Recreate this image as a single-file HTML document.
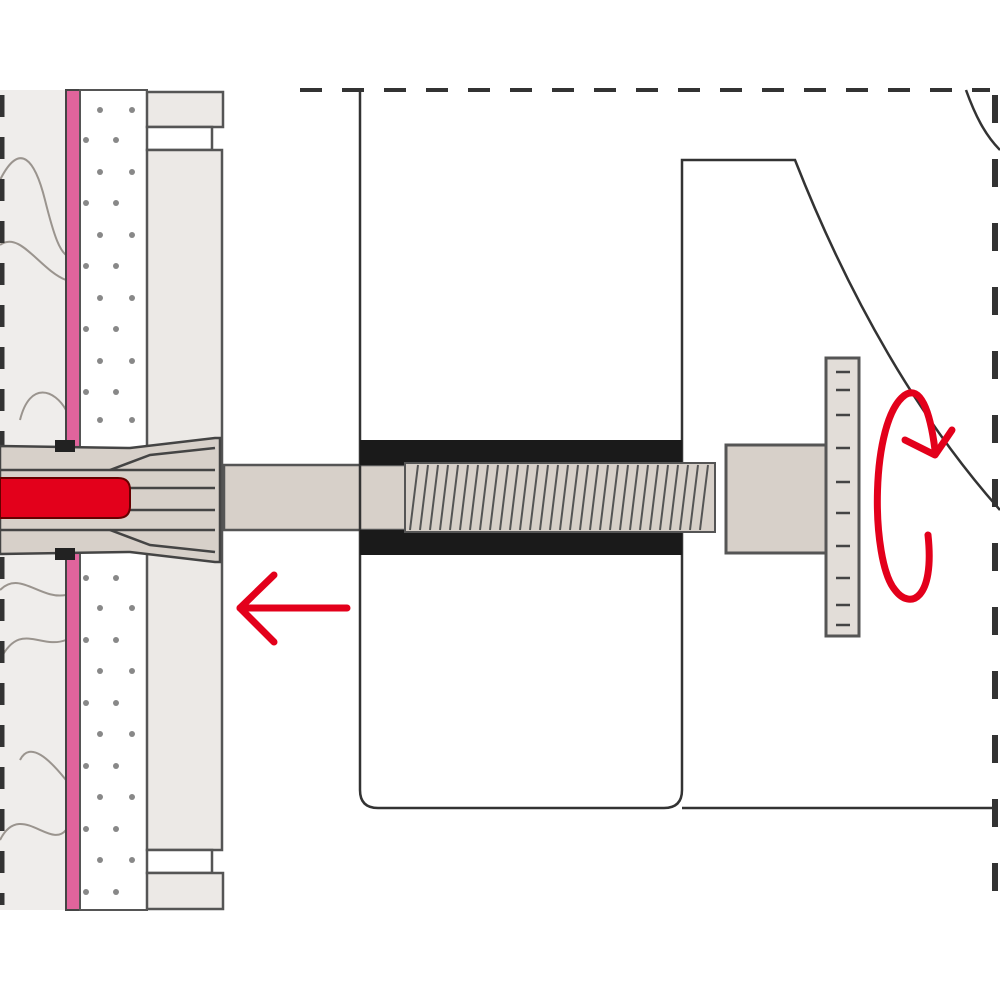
<!DOCTYPE html>
<html><head><style>html,body{margin:0;padding:0;background:#fff}</style></head>
<body>
<svg width="1000" height="1000" viewBox="0 0 1000 1000" xmlns="http://www.w3.org/2000/svg">
<rect width="1000" height="1000" fill="#fff"/>
<!-- wall base -->
<rect x="0" y="90" width="66" height="820" fill="#efedeb"/>
<g fill="none" stroke="#9a948e" stroke-width="2">
<path d="M0 180 C20 140 35 160 45 200 C55 240 60 250 66 255"/>
<path d="M0 245 C20 230 40 270 66 280"/>
<path d="M20 420 C30 380 55 390 66 410"/>
<path d="M0 590 C20 570 40 600 66 595"/>
<path d="M0 660 C20 620 40 650 66 640"/>
<path d="M20 760 C30 740 50 760 66 780"/>
<path d="M0 840 C20 800 50 850 66 830"/>
</g>
<rect x="66" y="90" width="14" height="820" fill="#e0649c" stroke="#444" stroke-width="2"/>
<rect x="80" y="90" width="67" height="820" fill="#fff" stroke="#555" stroke-width="2"/>
<g fill="#888">
<circle cx="100" cy="110" r="3"/><circle cx="132" cy="110" r="3"/>
<circle cx="86" cy="140" r="3"/><circle cx="116" cy="140" r="3"/>
<circle cx="100" cy="172" r="3"/><circle cx="132" cy="172" r="3"/>
<circle cx="86" cy="203" r="3"/><circle cx="116" cy="203" r="3"/>
<circle cx="100" cy="235" r="3"/><circle cx="132" cy="235" r="3"/>
<circle cx="86" cy="266" r="3"/><circle cx="116" cy="266" r="3"/>
<circle cx="100" cy="298" r="3"/><circle cx="132" cy="298" r="3"/>
<circle cx="86" cy="329" r="3"/><circle cx="116" cy="329" r="3"/>
<circle cx="100" cy="361" r="3"/><circle cx="132" cy="361" r="3"/>
<circle cx="86" cy="392" r="3"/><circle cx="116" cy="392" r="3"/>
<circle cx="100" cy="420" r="3"/><circle cx="132" cy="420" r="3"/>
<circle cx="86" cy="578" r="3"/><circle cx="116" cy="578" r="3"/>
<circle cx="100" cy="608" r="3"/><circle cx="132" cy="608" r="3"/>
<circle cx="86" cy="640" r="3"/><circle cx="116" cy="640" r="3"/>
<circle cx="100" cy="671" r="3"/><circle cx="132" cy="671" r="3"/>
<circle cx="86" cy="703" r="3"/><circle cx="116" cy="703" r="3"/>
<circle cx="100" cy="734" r="3"/><circle cx="132" cy="734" r="3"/>
<circle cx="86" cy="766" r="3"/><circle cx="116" cy="766" r="3"/>
<circle cx="100" cy="797" r="3"/><circle cx="132" cy="797" r="3"/>
<circle cx="86" cy="829" r="3"/><circle cx="116" cy="829" r="3"/>
<circle cx="100" cy="860" r="3"/><circle cx="132" cy="860" r="3"/>
<circle cx="86" cy="892" r="3"/><circle cx="116" cy="892" r="3"/>
</g>
<!-- panel -->
<g fill="#ece9e6" stroke="#555" stroke-width="2.5">
<rect x="147" y="92" width="76" height="35"/>
<rect x="147" y="127" width="65" height="23" fill="#fff"/>
<rect x="147" y="150" width="75" height="700"/>
<rect x="147" y="850" width="65" height="23" fill="#fff"/>
<rect x="147" y="873" width="76" height="36"/>
</g>
<!-- left dashed -->
<line x1="2" y1="95" x2="2" y2="905" stroke="#333" stroke-width="5" stroke-dasharray="22 20"/>
<!-- anchor -->
<g stroke="#444" stroke-width="2.5" fill="#d7d0c9">
<path d="M0 446 L130 448 L215 438 L220 438 L220 562 L215 562 L130 552 L0 554 Z"/>
<line x1="0" y1="470" x2="215" y2="470"/>
<line x1="0" y1="530" x2="215" y2="530"/>
<path d="M110 470 L150 455 L215 448" fill="none"/>
<path d="M110 530 L150 545 L215 552" fill="none"/>
<line x1="130" y1="488" x2="215" y2="488"/>
<line x1="130" y1="510" x2="215" y2="510"/>
</g>
<rect x="55" y="440" width="20" height="12" fill="#222"/>
<rect x="55" y="548" width="20" height="12" fill="#222"/>
<path d="M0 478 L118 478 Q130 478 130 490 L130 506 Q130 518 118 518 L0 518 Z" fill="#e3001b" stroke="#600" stroke-width="2"/>
<!-- shaft -->
<rect x="224" y="465" width="185" height="65" fill="#d7d0c9" stroke="#555" stroke-width="2.5"/>
<!-- middle block -->
<g fill="none" stroke="#333" stroke-width="2.5">
<path d="M360 90 L360 790 Q360 808 378 808 L664 808 Q682 808 682 790 L682 160 L795 160 C850 300 920 420 1000 510"/>
<line x1="682" y1="808" x2="995" y2="808"/>
<path d="M966 90 C975 115 985 135 1000 150"/>
</g>
<rect x="360" y="440" width="322" height="25" fill="#1a1a1a"/>
<rect x="360" y="530" width="322" height="25" fill="#1a1a1a"/>
<!-- thread -->
<rect x="405" y="463" width="310" height="69" fill="#d7d0c9" stroke="#555" stroke-width="2"/>
<g stroke="#555" stroke-width="2">
<path d="M410 530 L418 465 M420 530 L428 465 M430 530 L438 465 M440 530 L448 465 M450 530 L458 465 M460 530 L468 465 M470 530 L478 465 M480 530 L488 465 M490 530 L498 465 M500 530 L508 465 M510 530 L518 465 M520 530 L528 465 M530 530 L538 465 M540 530 L548 465 M550 530 L558 465 M560 530 L568 465 M570 530 L578 465 M580 530 L588 465 M590 530 L598 465 M600 530 L608 465 M610 530 L618 465 M620 530 L628 465 M630 530 L638 465 M640 530 L648 465 M650 530 L658 465 M660 530 L668 465 M670 530 L678 465 M680 530 L688 465 M690 530 L698 465 M700 530 L708 465"/>
</g>
<!-- nut -->
<rect x="726" y="445" width="100" height="108" fill="#d7d0c9" stroke="#555" stroke-width="3"/>
<rect x="826" y="358" width="33" height="278" fill="#e2ddd8" stroke="#555" stroke-width="3"/>
<g stroke="#444" stroke-width="2.5">
<line x1="836" y1="372" x2="850" y2="372"/><line x1="836" y1="390" x2="850" y2="390"/>
<line x1="836" y1="415" x2="850" y2="415"/><line x1="836" y1="448" x2="850" y2="448"/>
<line x1="836" y1="482" x2="850" y2="482"/><line x1="836" y1="513" x2="850" y2="513"/>
<line x1="836" y1="546" x2="850" y2="546"/><line x1="836" y1="578" x2="850" y2="578"/>
<line x1="836" y1="605" x2="850" y2="605"/><line x1="836" y1="625" x2="850" y2="625"/>
</g>
<!-- right dashed -->
<line x1="995" y1="95" x2="995" y2="905" stroke="#333" stroke-width="6" stroke-dasharray="28 36"/>
<line x1="300" y1="90" x2="990" y2="90" stroke="#333" stroke-width="4" stroke-dasharray="22 20"/>
<!-- red arrows -->
<g fill="none" stroke="#e3001b" stroke-width="7" stroke-linecap="round" stroke-linejoin="round">
<line x1="240" y1="608" x2="347" y2="608"/>
<path d="M274 575 L240 608 L274 642"/>
<path d="M928 535 C935 600 910 610 895 590 C870 560 870 420 905 395 C920 385 930 410 935 450"/>
<path d="M905 440 L935 455 L952 430"/>
</g>
</svg>
</body></html>
